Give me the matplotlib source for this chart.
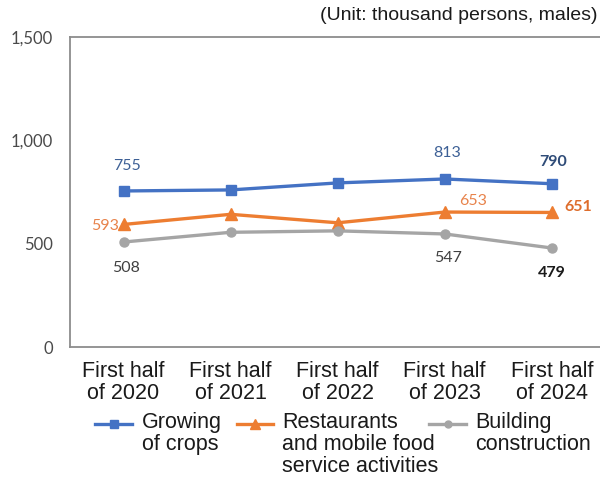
import matplotlib.pyplot as plt
from matplotlib.lines import Line2D

periods = ["First half\nof 2020", "First half\nof 2021", "First half\nof 2022",
           "First half\nof 2023", "First half\nof 2024"]
crops = [755, 760, 794, 813, 790]
restaurants = [593, 642, 601, 653, 651]
building = [508, 555, 562, 547, 479]
legend_names = ["Growing\nof crops", "Restaurants\nand mobile food\nservice activities",
                "Building\nconstruction"]
y_ticks = [0, 500, 1000, 1500]

BLUE = "#4472C4"
ORANGE = "#ED7D31"
GRAY = "#A5A5A5"
TXT = "Liberation Sans"
NUM = "Lato"

fig = plt.figure(figsize=(6, 4.78), dpi=100)
W, H = 600, 478
ax = fig.add_axes([70 / W, 1 - 347 / H, 530 / W, (347 - 37) / H])

x = list(range(len(periods)))
ax.plot(x, crops, color=BLUE, lw=2.4, marker="s", ms=7.5)
ax.plot(x, restaurants, color=ORANGE, lw=2.4, marker="^", ms=8)
ax.plot(x, building, color=GRAY, lw=2.4, marker="o", ms=6.5)

ax.set_xlim(-0.5, 4.45)
ax.set_ylim(0, 1500)
ax.set_yticks(y_ticks)
ax.set_yticklabels([f"{v:,}" for v in y_ticks], fontfamily=NUM, fontsize=12, color="#4a4a4a")
ax.set_xticks(x)
ax.set_xticklabels(periods, fontfamily=TXT, fontsize=15.5, color="#1a1a1a", linespacing=1.05)
ax.tick_params(axis="y", length=0, pad=12)
ax.tick_params(axis="x", length=0, pad=10)
for s in ["left", "top", "bottom"]:
    ax.spines[s].set_color("#8c8c8c")
    ax.spines[s].set_linewidth(1.3)
ax.spines["right"].set_visible(False)


def lab(i, series, text, dx, dy, color, bold=False, ha="center"):
    ax.annotate(text, (i, series[i]), xytext=(dx, dy), textcoords="offset pixels",
                ha=ha, va="center", fontfamily=NUM, fontsize=11.5, color=color,
                fontweight="bold" if bold else "normal")


lab(0, crops, "755", 3, 25, "#3D6096")
lab(3, crops, "813", 2, 26, "#3D6096")
lab(4, crops, "790", 1, 22, "#2F4C78", bold=True)
lab(0, restaurants, "593", -5, -2, "#E8834B", ha="right")
lab(3, restaurants, "653", 28, 11, "#E8834B")
lab(4, restaurants, "651", 26, 5, "#DE6D2C", bold=True)
lab(0, building, "508", 3, -26, "#404040")
lab(3, building, "547", 3, -24, "#404040")
lab(4, building, "479", 0, -25, "#1a1a1a", bold=True)

fig.text(597 / W, 1 - 16 / H, "(Unit: thousand persons, males)", ha="right", va="center",
         fontfamily=TXT, fontsize=14, color="#1a1a1a")

# legend drawn by hand so the markers sit on the first text line
entries = [(95, 132, 142, BLUE, "s", 6), (237, 273, 282, ORANGE, "^", 6.5),
           (429, 466, 475, GRAY, "o", 5)]
ly = 424
for (x0, x1, tx, col, mk, ms), name in zip(entries, legend_names):
    fig.add_artist(Line2D([x0 / W, x1 / W], [1 - ly / H, 1 - ly / H], color=col, lw=2.4,
                          transform=fig.transFigure))
    fig.add_artist(Line2D([(x0 + x1) / 2 / W], [1 - ly / H], color=col, marker=mk, ms=ms,
                          transform=fig.transFigure))
    fig.text(tx / W, 1 - (ly - 12) / H, name, ha="left", va="top", fontfamily=TXT,
             fontsize=15.5, color="#1a1a1a", linespacing=1.05)

fig.savefig("out.png", dpi=100)
